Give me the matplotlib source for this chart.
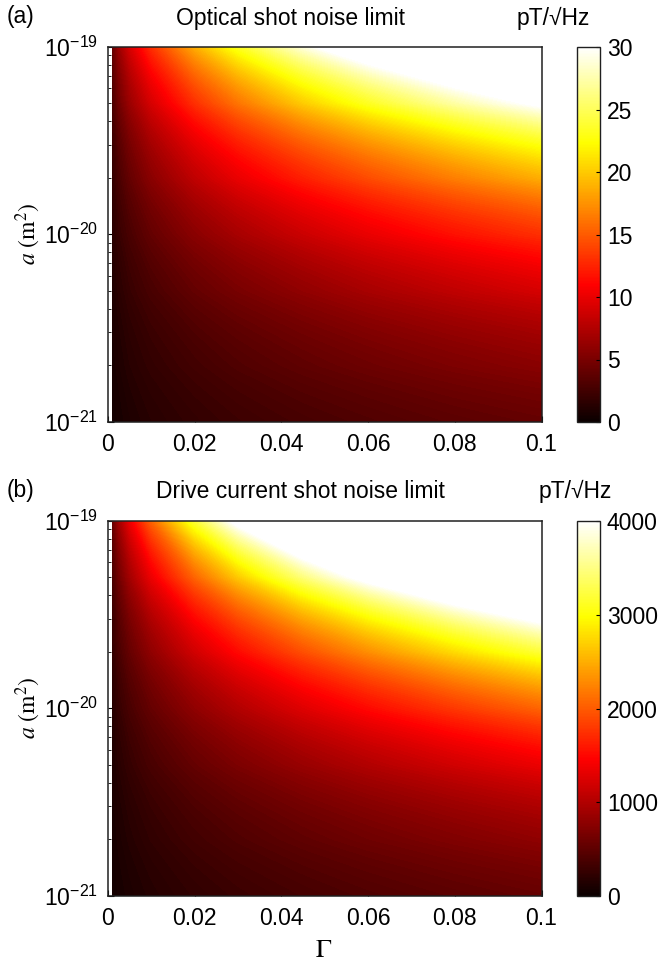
import numpy as np
import matplotlib.pyplot as plt
from matplotlib.colors import Normalize
from matplotlib.cm import ScalarMappable

# grid of the maps: Gamma (columns) and area a in m^2 (rows)
gamma = [0.001, 0.0025, 0.005, 0.01, 0.02, 0.03, 0.045, 0.06, 0.08, 0.1]
area = [1e-21, 2e-21, 5e-21, 1e-20, 2e-20, 5e-20, 1e-19]

# optical shot noise limit, pT/sqrt(Hz)
optical = [
    [0.4, 0.6, 0.9, 1.3, 1.8, 2.2, 2.7, 3.1, 3.6, 4.0],
    [0.6, 0.9, 1.3, 1.8, 2.5, 3.1, 3.8, 4.4, 5.1, 5.7],
    [0.9, 1.4, 2.0, 2.8, 4.0, 4.9, 6.0, 7.0, 8.1, 9.1],
    [1.3, 2.0, 2.8, 4.0, 5.7, 7.0, 8.6, 10.0, 11.6, 13.0],
    [1.8, 2.8, 4.0, 5.7, 8.1, 10.0, 12.3, 14.3, 16.6, 18.7],
    [2.8, 4.5, 6.4, 9.1, 13.0, 16.1, 20.0, 23.3, 27.2, 30.7],
    [4.0, 6.4, 9.1, 13.0, 18.7, 23.3, 29.0, 34.0, 39.9, 45.2],
]

# drive current shot noise limit, pT/sqrt(Hz)
drive = [
    [49, 79, 112, 160, 229, 284, 351, 410, 479, 540],
    [70, 112, 160, 229, 330, 410, 510, 597, 700, 794],
    [112, 180, 258, 372, 540, 676, 848, 1000, 1181, 1347],
    [160, 258, 372, 540, 794, 1000, 1266, 1502, 1788, 2052],
    [229, 372, 540, 794, 1181, 1502, 1922, 2300, 2764, 3196],
    [372, 611, 901, 1347, 2052, 2651, 3455, 4191, 5108, 5976],
    [540, 901, 1347, 2052, 3196, 4191, 5547, 6809, 8400, 9922],
]

x_ticks = [0, 0.02, 0.04, 0.06, 0.08, 0.1]
x_labels = ['0', '0.02', '0.04', '0.06', '0.08', '0.1']
y_ticks = [1e-21, 1e-20, 1e-19]
y_labels = [r'$\mathregular{10^{-21}}$', r'$\mathregular{10^{-20}}$', r'$\mathregular{10^{-19}}$']

FS = 16.5
plt.rcParams['font.family'] = ['Liberation Sans', 'DejaVu Sans']
plt.rcParams['font.size'] = FS

W, H = 661, 967
fig = plt.figure(figsize=(W / 100, H / 100), dpi=100)


def px_box(x0, y0, x1, y1):
    # pixel box (top-left origin) -> figure fraction rect
    return [x0 / W, 1 - y1 / H, (x1 - x0) / W, (y1 - y0) / H]


panels = [
    dict(data=optical, vmax=30, cticks=[0, 5, 10, 15, 20, 25, 30],
         title='Optical shot noise limit', tag='(a)',
         ax=(108, 46.5, 541.5, 422), cax=(577, 47, 600, 422),
         title_xy=(290, 18), unit_xy=(517, 18)),
    dict(data=drive, vmax=4000, cticks=[0, 1000, 2000, 3000, 4000],
         title='Drive current shot noise limit', tag='(b)',
         ax=(108, 520.5, 541.5, 896), cax=(577, 521, 600, 896),
         title_xy=(300, 491), unit_xy=(539, 491)),
]

for p in panels:
    ax = fig.add_axes(px_box(*p['ax']))
    ax.set_yscale('log')
    ax.set_axisbelow(True)
    norm = Normalize(0, p['vmax'])
    levels = np.linspace(0, p['vmax'], 161)
    ax.contourf(gamma, area, np.array(p['data']), levels=levels, norm=norm,
                cmap='hot', extend='max', antialiased=False, zorder=1)
    ax.set_xlim(0, 0.1)
    ax.set_ylim(1e-21, 1e-19)
    ax.set_xticks(x_ticks)
    ax.set_xticklabels(x_labels)
    ax.set_yticks(y_ticks)
    ax.set_yticklabels(y_labels)
    ax.tick_params(which='both', direction='in', top=False, right=False)
    ax.tick_params(axis='x', which='major', length=4, pad=8)
    ax.tick_params(axis='y', which='major', length=4, pad=7)
    ax.tick_params(axis='y', which='minor', length=2.5)
    for s in ax.spines.values():
        s.set_linewidth(1.1)
        s.set_color('#202020')

    cax = fig.add_axes(px_box(*p['cax']))
    cb = fig.colorbar(ScalarMappable(norm=norm, cmap='hot'), cax=cax,
                      ticks=p['cticks'])
    cb.outline.set_linewidth(1.0)
    cb.outline.set_edgecolor('#202020')
    cax.tick_params(direction='in', length=3, pad=5, labelsize=FS)

    tx, ty = p['title_xy']
    fig.text(tx / W, 1 - ty / H, p['title'], ha='center', va='center')
    ux, uy = p['unit_xy']
    fig.text(ux / W, 1 - uy / H, 'pT/\u221aHz', ha='left', va='center')
    fig.text(7 / W, 1 - (ty - 1) / H, p['tag'], ha='left', va='center')

    y_mid = (p['ax'][1] + p['ax'][3]) / 2
    fig.text(28 / W, 1 - y_mid / H, r'$a\ (\mathrm{m}^2)$', rotation=90,
             ha='center', va='center', fontsize=17, math_fontfamily='stix')

fig.text(324 / W, 1 - 950 / H, r'$\Gamma$', ha='center', va='center',
         fontsize=19, math_fontfamily='stix')

fig.savefig('out.png', dpi=100)
